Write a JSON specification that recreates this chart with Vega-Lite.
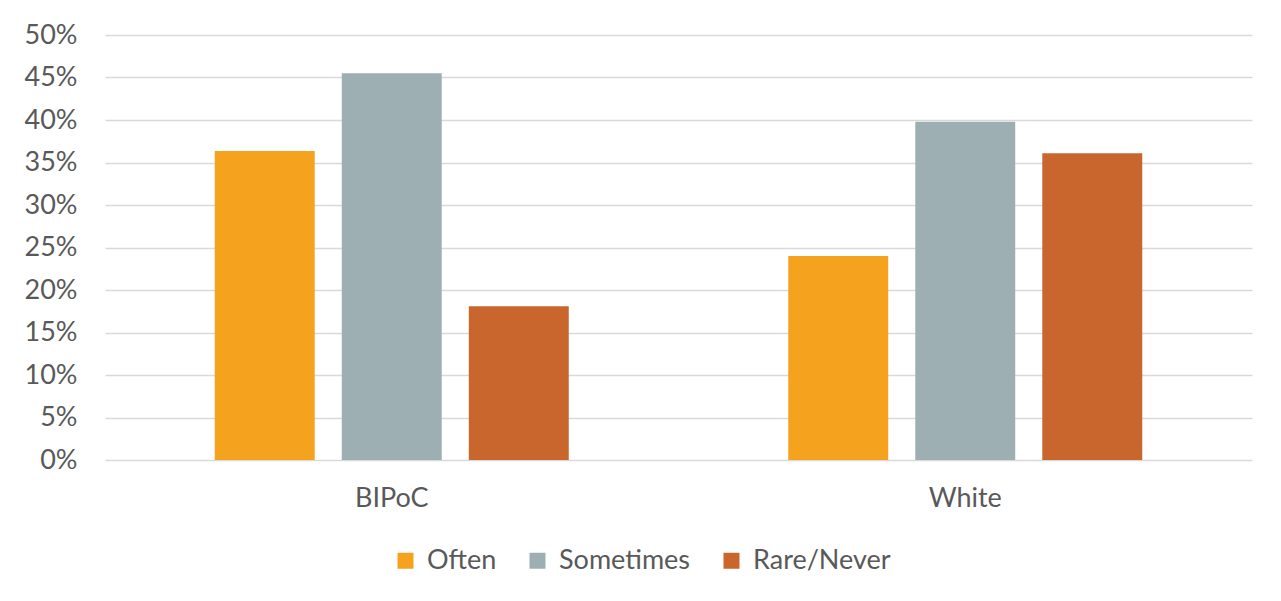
{
  "$schema": "https://vega.github.io/schema/vega-lite/v6.json",
  "autosize": {"type": "none"},
  "width": 1147,
  "height": 425,
  "padding": {"left": 105, "top": 35, "right": 29, "bottom": 141},
  "background": "white",
  "data": {
    "values": [
      {"group": "BIPoC", "freq": "Often", "value": 0.3635},
      {"group": "BIPoC", "freq": "Sometimes", "value": 0.455},
      {"group": "BIPoC", "freq": "Rare/Never", "value": 0.181},
      {"group": "White", "freq": "Often", "value": 0.240},
      {"group": "White", "freq": "Sometimes", "value": 0.398},
      {"group": "White", "freq": "Rare/Never", "value": 0.361}
    ]
  },
  "mark": {"type": "bar"},
  "encoding": {
    "x": {
      "field": "group", "type": "nominal", "sort": ["BIPoC", "White"],
      "scale": {"paddingInner": 0, "paddingOuter": 0},
      "axis": {"title": null, "labelAngle": 0, "domain": false, "ticks": false, "labelFontSize": 27, "labelColor": "#595959", "labelFont": "Lato", "labelPadding": 25}
    },
    "xOffset": {
      "field": "freq", "type": "nominal", "sort": ["Often", "Sometimes", "Rare/Never"],
      "scale": {"paddingInner": 0.213, "paddingOuter": 0.864}
    },
    "y": {
      "field": "value", "type": "quantitative",
      "scale": {"domain": [0, 0.5], "nice": false},
      "axis": {"title": null, "format": ".0%", "values": [0,0.05,0.1,0.15,0.2,0.25,0.3,0.35,0.4,0.45,0.5], "labelOverlap": false, "domain": false, "ticks": false, "labelFontSize": 27, "labelColor": "#595959", "labelFont": "Lato", "labelPadding": 28, "gridColor": "#d9d9d9", "gridWidth": 1.5}
    },
    "color": {
      "field": "freq", "type": "nominal", "sort": ["Often", "Sometimes", "Rare/Never"],
      "scale": {"domain": ["Often", "Sometimes", "Rare/Never"], "range": ["#f5a21e", "#9eafb4", "#c8662e"]},
      "legend": {"title": null, "orient": "none", "direction": "horizontal", "legendX": 287, "legendY": 512, "symbolType": "square", "symbolSize": 256, "symbolStrokeWidth": 0, "symbolOpacity": 1, "labelFontSize": 27, "labelColor": "#595959", "labelFont": "Lato", "labelOffset": 8, "columnPadding": 27}
    }
  },
  "config": {"view": {"stroke": null}}
}
